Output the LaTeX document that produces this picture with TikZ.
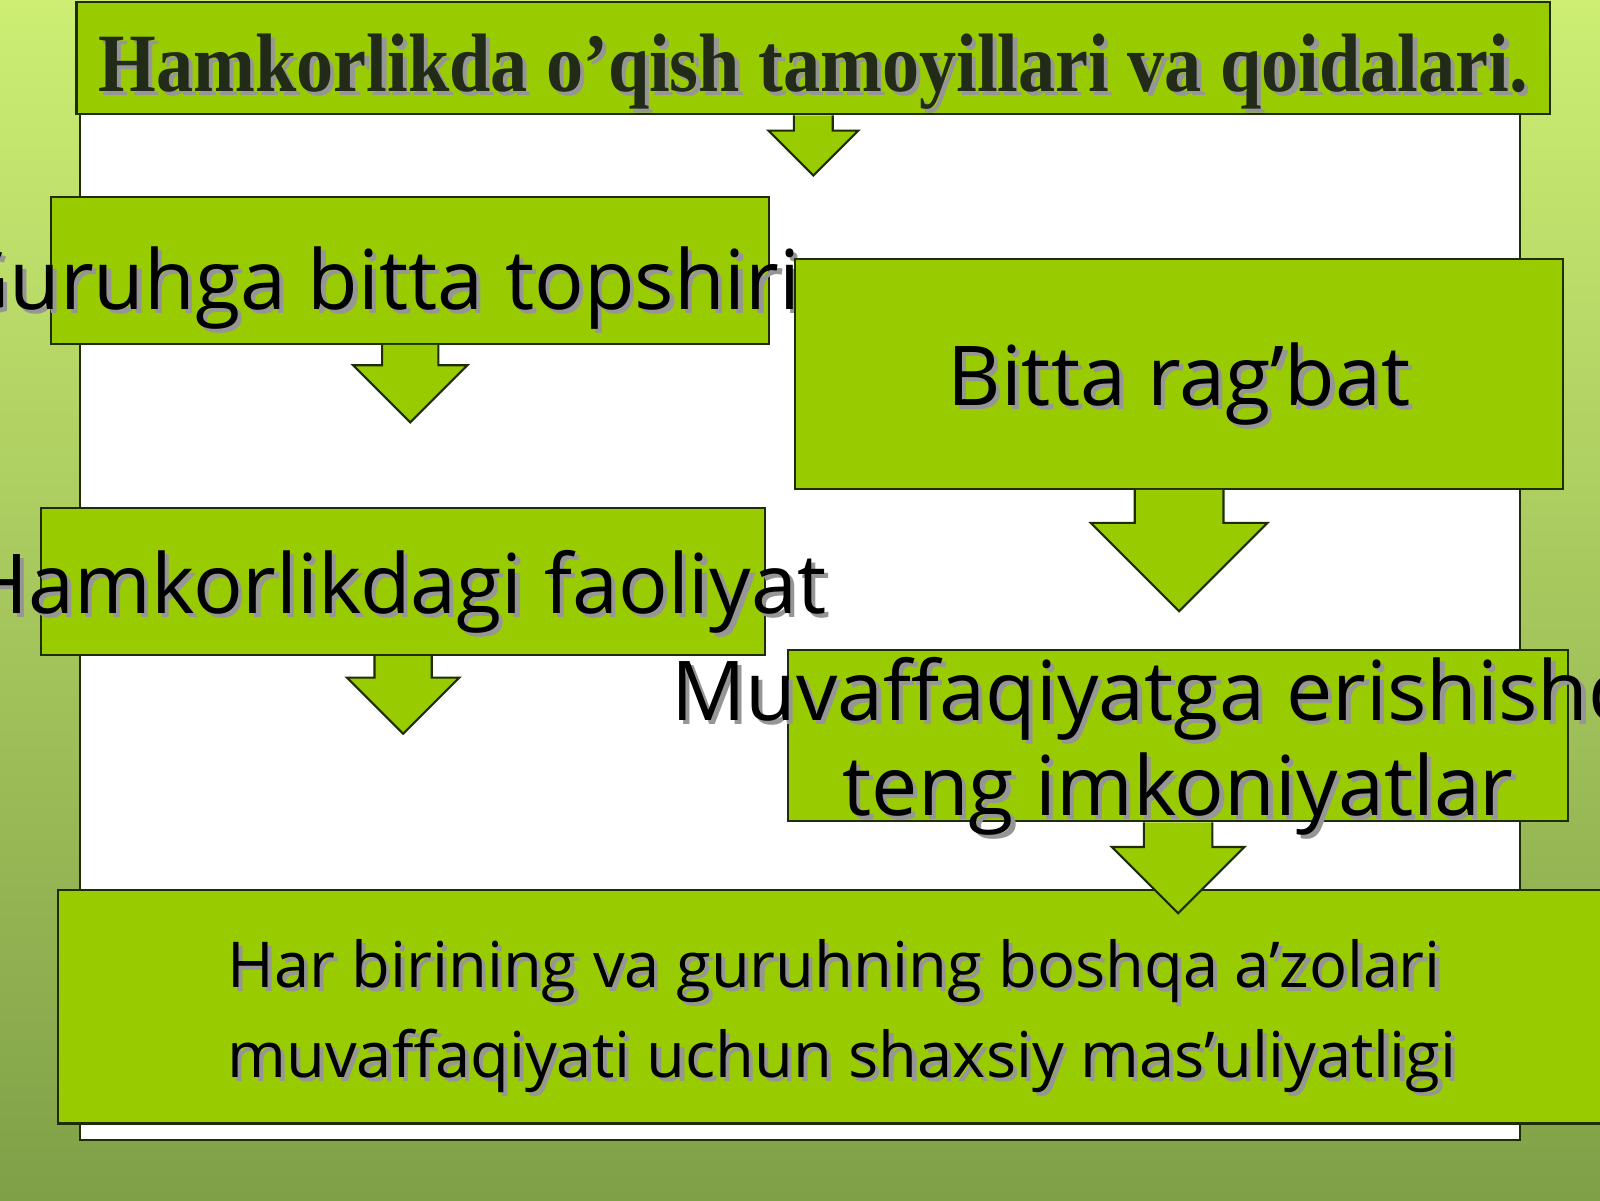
\documentclass[tikz,border=0pt]{standalone}
\usepackage{fontspec}
\usepackage{graphicx}
\setmainfont{Liberation Serif}
\newfontfamily\boxfont{Open Sans}
\usetikzlibrary{calc}

\definecolor{boxgreen}{RGB}{153,204,0}
\definecolor{boxline}{RGB}{30,45,5}
\definecolor{bgtop}{RGB}{205,238,115}
\definecolor{bgmid}{RGB}{178,214,100}
\definecolor{bgbottom}{RGB}{128,160,72}
\definecolor{shadowgray}{RGB}{150,150,150}
\definecolor{titleink}{RGB}{34,42,24}

% text with a small grey drop shadow
\newcommand{\shtext}[1]{\makebox[0pt][l]{\hspace{1.2pt}\raisebox{-1.2pt}{\color{shadowgray}#1}}#1}
% centred line, baseline #1 above the node centre
\newcommand{\boxline}[2]{\makebox[0pt]{\raisebox{#1}[0pt][0pt]{\shtext{#2}}}}
% left aligned line, starting #1 right of the node centre
\newcommand{\boxlinel}[3]{\makebox[0pt][l]{\hspace*{#1}\raisebox{#2}[0pt][0pt]{\shtext{#3}}}}
% block arrow: from, tip, half shaft width, half head width
\newcommand{\blockarrow}[4]{%
  \filldraw [arrowbody] let \p1=(#1), \p2=(#2) in
    (\x1-#3,\y1) -- (\x1-#3,\y2+#4) -- (\x1-#4,\y2+#4) -- (\x1,\y2)
    -- (\x1+#4,\y2+#4) -- (\x1+#3,\y2+#4) -- (\x1+#3,\y1);}

\tikzset{
  greenbox/.style={draw=boxline, fill=boxgreen, line width=0.6pt, inner sep=0pt},
  bigtext/.style={font=\boxfont\fontsize{23.5}{26}\selectfont},
  smalltext/.style={font=\boxfont\fontsize{18}{22}\selectfont},
  arrowbody/.style={draw=boxline, fill=boxgreen, line width=0.6pt, line join=miter},
}

\begin{document}
\begin{tikzpicture}
        \clip (0,0) rectangle (16,12);
        \shade [top color=bgtop, middle color=bgmid, bottom color=bgbottom] (0,0) rectangle (16,12); %backdrop
        \draw [draw=boxline, line width=0.6pt, fill=white] (0.796,0.602) rectangle (15.204,10.857);   %sheet

        \node [greenbox, minimum width=14.735cm, minimum height=1.123cm, text=titleink,
               font=\bfseries\fontsize{23.6}{26}\selectfont] (title) at (8.133,11.419)
              {\boxline{-0.336cm}{\scalebox{0.895}[1]{Hamkorlikda o’qish tamoyillari va qoidalari.}}};
        \node [greenbox, bigtext, minimum width=7.184cm, minimum height=1.47cm]  (guruh)  at (4.102,9.296)
              {\boxline{-0.39cm}{\hspace*{-0.2cm}Guruhga bitta topshiriq}};
        \node [greenbox, bigtext, minimum width=7.245cm, minimum height=1.469cm] (faoliyat) at (4.031,6.184)
              {\boxline{-0.316cm}{\hspace*{-0.12cm}Hamkorlikdagi faoliyat}};
        \node [greenbox, bigtext, minimum width=7.684cm, minimum height=2.296cm] (ragbat) at (11.791,8.26)
              {\boxline{-0.31cm}{Bitta rag’bat}};
        \node [greenbox, bigtext, minimum width=7.806cm, minimum height=1.714cm] (imkon) at (11.781,4.643)
              {\boxline{0.157cm}{Muvaffaqiyatga erishishda}\boxline{-0.793cm}{teng imkoniyatlar}};
        \node [greenbox, smalltext, minimum width=15.618cm, minimum height=2.337cm] (masul) at (8.391,1.934)
              {\boxlinel{-6.115cm}{0.196cm}{Har birining va guruhning boshqa a’zolari}%
               \boxlinel{-6.115cm}{-0.704cm}{muvaffaqiyati uchun shaxsiy mas’uliyatligi}};

        \coordinate (titletip)    at (8.133,10.245);
        \coordinate (guruhtip)    at (4.102,7.776);
        \coordinate (ragbattip)   at (11.791,5.888);
        \coordinate (faoliyattip) at (4.031,4.663);
        \coordinate (imkontip)    at (11.781,2.867);

        \blockarrow{title.south}{titletip}{0.194cm}{0.449cm}
        \blockarrow{guruh.south}{guruhtip}{0.281cm}{0.571cm}
        \blockarrow{ragbat.south}{ragbattip}{0.444cm}{0.883cm}
        \blockarrow{faoliyat.south}{faoliyattip}{0.286cm}{0.561cm}
        \blockarrow{imkon.south}{imkontip}{0.342cm}{0.663cm}
\end{tikzpicture}
\end{document}
